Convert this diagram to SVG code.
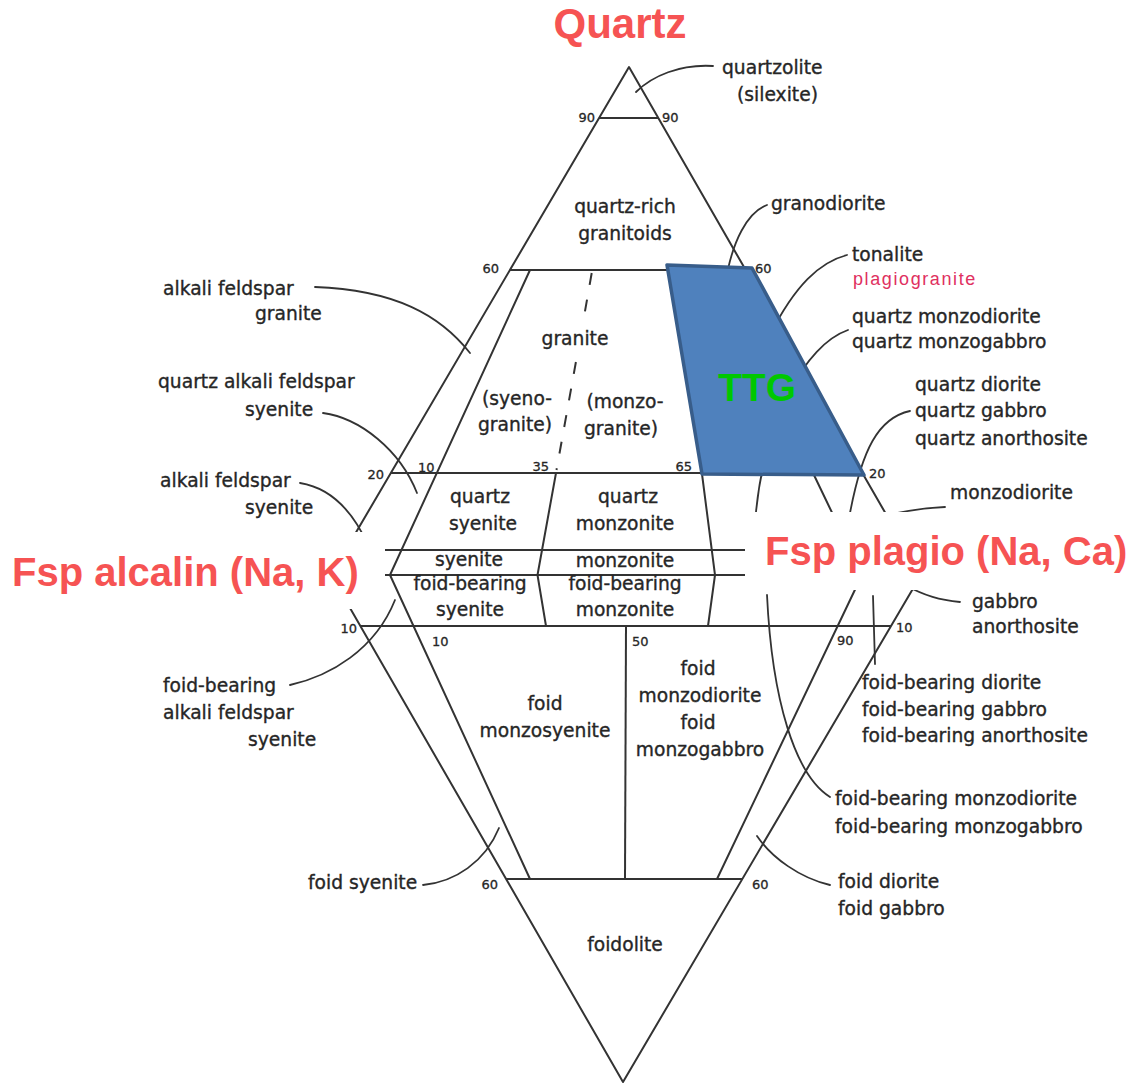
<svg xmlns="http://www.w3.org/2000/svg" width="1147" height="1084" viewBox="0 0 1147 1084">
<defs>
<style>
.ln{fill:none;stroke:#333;stroke-width:2;stroke-linejoin:round}
.ld{fill:none;stroke:#333;stroke-width:1.8;stroke-linecap:round}
.t{font-family:"DejaVu Sans",sans-serif;font-size:18.7px;fill:#262626;stroke:#262626;stroke-width:0.35}
.c{text-anchor:middle}
.e{text-anchor:end}
.n{font-family:"DejaVu Sans",sans-serif;font-size:13px;fill:#262626;stroke:#262626;stroke-width:0.3}
.big{font-family:"Liberation Sans",Arial,sans-serif;font-weight:bold;font-size:40px;fill:#f65353}
.box{fill:#fff;stroke:none}
</style>
</defs>
<rect width="1147" height="1084" fill="#fff"/>

<g id="field-lines">
<path class="ln" d="M331,575 L629,67 L921,575 L623,1082 Z"/>
<path class="ln" d="M599,118 H658"/>
<path class="ln" d="M510,270 H746"/>
<path class="ln" d="M391,473 H863"/>
<path class="ln" d="M346,550 H906"/>
<path class="ln" d="M331,575 H921"/>
<path class="ln" d="M360,626 H891"/>
<path class="ln" d="M506,879 H742"/>
<path class="ln" d="M530,270 L390,575 L530,879"/>
<path class="ln" d="M591.7,273 L583.8,318 M575.9,362 L556.5,470" stroke-dasharray="12 15"/>
<path class="ln" d="M556,473 L537.5,575 L546,626"/>
<path class="ln" d="M626,626 L625,879"/>
<path class="ln" d="M702,474 L715,575 L708,626"/>
<path class="ln" d="M813,473 L862,575 L717,879"/>
</g>

<g id="connectors">
<path class="ld" d="M713,66 C680,64 652,76 636,92"/>
<path class="ld" d="M767,205 C748,212 732,240 725,285"/>
<path class="ld" d="M847,255 C820,262 795,285 770,335"/>
<path class="ld" d="M848,330 C805,345 765,420 756,512"/>
<path class="ld" d="M910,411 C878,418 862,450 850,513"/>
<path class="ld" d="M945,507 Q905,509 870,520"/>
<path class="ld" d="M960,602 C940,600 925,596 905,585"/>
<path class="ld" d="M873,596 L875,664"/>
<path class="ld" d="M830,797 C795,775 772,700 767,595"/>
<path class="ld" d="M830,885 C800,878 772,858 757,836"/>
<path class="ld" d="M290,685 C330,676 375,650 395,600"/>
<path class="ld" d="M423,885 C455,882 485,862 499,828"/>
<path class="ld" d="M315,287 C395,290 440,315 470,353"/>
<path class="ld" d="M323,413 C360,418 400,450 417,493"/>
<path class="ld" d="M300,483 C325,487 350,505 368,545"/>
</g>

<g id="ttg">
<polygon points="667,265 752,268 864,475 702,474" fill="#4f81bd" stroke="#385d8a" stroke-width="3.5" stroke-linejoin="round"/>
<text x="757" y="401" text-anchor="middle" font-family="Liberation Sans, Arial, sans-serif" font-weight="bold" font-size="39" fill="#00c800">TTG</text>
</g>

<g id="axis-boxes">
<rect class="box" x="0" y="532" width="385" height="77"/>
<rect class="box" x="745" y="512" width="402" height="78"/>
</g>

<g id="apex-labels">
<text class="big" x="620" y="38" text-anchor="middle" style="font-size:42px">Quartz</text>
<text class="big" x="12" y="586">Fsp alcalin (Na, K)</text>
<text class="big" x="765" y="565">Fsp plagio (Na, Ca)</text>
</g>

<g id="percent-labels">
<text class="n e" x="595" y="122">90</text>
<text class="n" x="662" y="122">90</text>
<text class="n e" x="499" y="273">60</text>
<text class="n" x="755" y="273">60</text>
<text class="n e" x="384" y="479">20</text>
<text class="n" x="418" y="472">10</text>
<text class="n e" x="549" y="471">35</text>
<text class="n e" x="692" y="471">65</text>
<text class="n" x="869" y="478">20</text>
<text class="n e" x="357" y="633">10</text>
<text class="n" x="432" y="646">10</text>
<text class="n" x="632" y="646">50</text>
<text class="n" x="837" y="645">90</text>
<text class="n" x="896" y="632">10</text>
<text class="n e" x="498" y="889">60</text>
<text class="n" x="752" y="889">60</text>
</g>

<g id="field-labels">
<text class="t c" x="625" y="213">quartz-rich</text>
<text class="t c" x="625" y="240">granitoids</text>
<text class="t c" x="575" y="345">granite</text>
<text class="t c" x="517" y="405">(syeno-</text>
<text class="t c" x="515" y="431">granite)</text>
<text class="t c" x="625" y="408">(monzo-</text>
<text class="t c" x="621" y="435">granite)</text>
<text class="t c" x="480" y="503">quartz</text>
<text class="t c" x="483" y="530">syenite</text>
<text class="t c" x="628" y="503">quartz</text>
<text class="t c" x="625" y="530">monzonite</text>
<text class="t c" x="469" y="566">syenite</text>
<text class="t c" x="625" y="567">monzonite</text>
<text class="t c" x="470" y="590">foid-bearing</text>
<text class="t c" x="470" y="616">syenite</text>
<text class="t c" x="625" y="590">foid-bearing</text>
<text class="t c" x="625" y="616">monzonite</text>
<text class="t c" x="545" y="710">foid</text>
<text class="t c" x="545" y="737">monzosyenite</text>
<text class="t c" x="698" y="675">foid</text>
<text class="t c" x="700" y="702">monzodiorite</text>
<text class="t c" x="698" y="729">foid</text>
<text class="t c" x="700" y="756">monzogabbro</text>
<text class="t c" x="625" y="951">foidolite</text>
</g>

<g id="left-names">
<text class="t" x="163" y="295">alkali feldspar</text>
<text class="t" x="255" y="320">granite</text>
<text class="t" x="158" y="388">quartz alkali feldspar</text>
<text class="t" x="245" y="416">syenite</text>
<text class="t" x="160" y="487">alkali feldspar</text>
<text class="t" x="245" y="514">syenite</text>
<text class="t" x="163" y="692">foid-bearing</text>
<text class="t" x="163" y="719">alkali feldspar</text>
<text class="t" x="248" y="746">syenite</text>
<text class="t" x="308" y="889">foid syenite</text>
</g>

<g id="right-names">
<text class="t" x="722" y="74">quartzolite</text>
<text class="t" x="737" y="101">(silexite)</text>
<text class="t" x="771" y="210">granodiorite</text>
<text class="t" x="852" y="261">tonalite</text>
<text x="853" y="285" font-family="Liberation Sans, Arial, sans-serif" font-size="18" letter-spacing="1.6" fill="#e03060">plagiogranite</text>
<text class="t" x="852" y="323">quartz monzodiorite</text>
<text class="t" x="852" y="348">quartz monzogabbro</text>
<text class="t" x="915" y="391">quartz diorite</text>
<text class="t" x="915" y="417">quartz gabbro</text>
<text class="t" x="915" y="445">quartz anorthosite</text>
<text class="t" x="950" y="499">monzodiorite</text>
<text class="t" x="972" y="608">gabbro</text>
<text class="t" x="972" y="633">anorthosite</text>
<text class="t" x="862" y="689">foid-bearing diorite</text>
<text class="t" x="862" y="716">foid-bearing gabbro</text>
<text class="t" x="862" y="742">foid-bearing anorthosite</text>
<text class="t" x="835" y="805">foid-bearing monzodiorite</text>
<text class="t" x="835" y="833">foid-bearing monzogabbro</text>
<text class="t" x="838" y="888">foid diorite</text>
<text class="t" x="838" y="915">foid gabbro</text>
</g>
</svg>
